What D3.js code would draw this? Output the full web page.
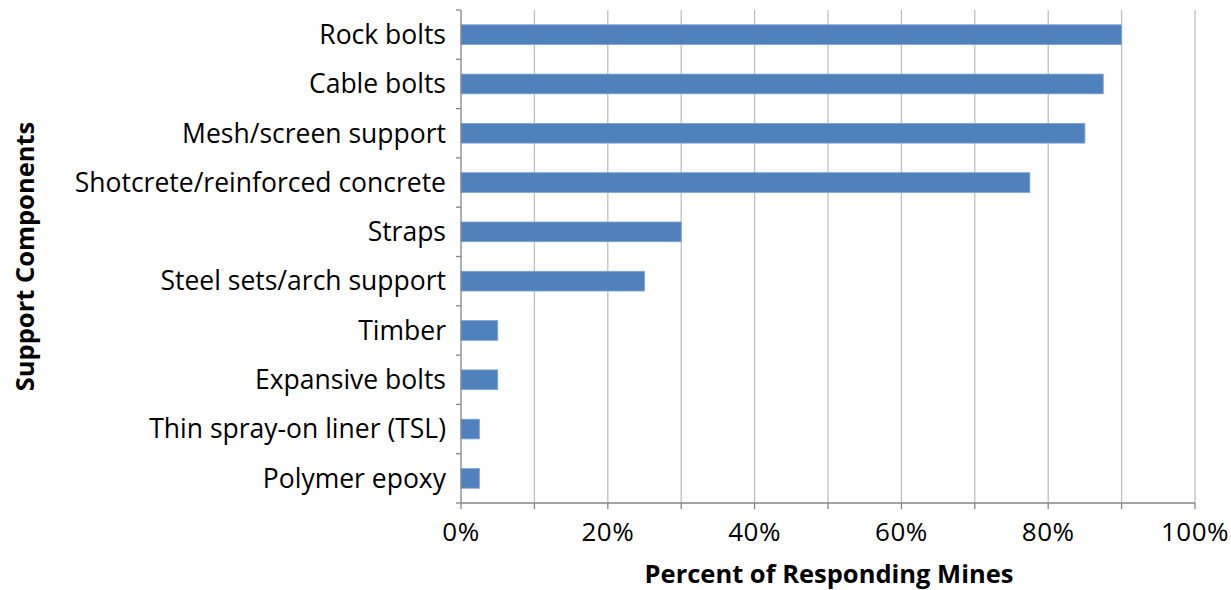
<!DOCTYPE html>
<html>
<head>
<meta charset="utf-8">
<script src="https://cdn.jsdelivr.net/npm/d3@7"></script>
<style>
  body { margin: 0; background: #fff; }
  text { font-family: "Open Sans", "Liberation Sans", sans-serif; fill: #000; }
</style>
</head>
<body>
<div class="chart"></div>
<script>
const categories = ['Rock bolts', 'Cable bolts', 'Mesh/screen support', 'Shotcrete/reinforced concrete',
  'Straps', 'Steel sets/arch support', 'Timber', 'Expansive bolts', 'Thin spray-on liner (TSL)', 'Polymer epoxy']
const values = [0.90, 0.875, 0.85, 0.775, 0.30, 0.25, 0.05, 0.05, 0.025, 0.025]
const tickLabels = [0, 0.2, 0.4, 0.6, 0.8, 1.0]
const gridValues = d3.range(0, 1.01, 0.1)

const width = 1231, height = 590
const margin = { top: 10, right: 36, bottom: 87, left: 461 }

const svg = d3.select('.chart').append('svg')
  .attr('width', width)
  .attr('height', height)

const x = d3.scaleLinear()
  .domain([0, 1])
  .range([margin.left, width - margin.right])

const y = d3.scaleBand()
  .domain(categories)
  .range([margin.top, height - margin.bottom])
  .paddingInner(0.6)
  .paddingOuter(0.3)

const yTicks = d3.scaleLinear().domain([0, categories.length]).range([margin.top, height - margin.bottom])

// gridlines
svg.append('g')
  .selectAll('line')
  .data(gridValues.slice(1))
  .enter()
  .append('line')
  .attr('x1', d => x(d)).attr('x2', d => x(d))
  .attr('y1', margin.top).attr('y2', height - margin.bottom)
  .attr('stroke', '#c0c0c0')
  .attr('stroke-width', 1.3)

// bars
svg.append('g')
  .selectAll('rect')
  .data(categories)
  .enter()
  .append('rect')
  .attr('x', x(0))
  .attr('y', d => y(d))
  .attr('width', (d, i) => x(values[i]) - x(0))
  .attr('height', y.bandwidth())
  .attr('fill', '#4f81bd')
  .attr('stroke', '#7fa3d1')
  .attr('stroke-width', 0.8)

// x axis
const xAxis = svg.append('g')
  .attr('transform', `translate(0,${height - margin.bottom})`)

xAxis.append('line')
  .attr('x1', x(0)).attr('x2', x(1))
  .attr('stroke', '#868686').attr('stroke-width', 1.3)

xAxis.selectAll('.tick')
  .data(gridValues)
  .enter()
  .append('line')
  .attr('x1', d => x(d)).attr('x2', d => x(d))
  .attr('y1', 0).attr('y2', 6)
  .attr('stroke', '#868686').attr('stroke-width', 1.3)

xAxis.selectAll('.label')
  .data(tickLabels)
  .enter()
  .append('text')
  .attr('x', d => x(d))
  .attr('y', 38)
  .attr('text-anchor', 'middle')
  .style('font-size', '26px')
  .style('letter-spacing', '0.5px')
  .text(d => d3.format('.0%')(d))

// y axis
const yAxis = svg.append('g')

yAxis.append('line')
  .attr('x1', x(0)).attr('x2', x(0))
  .attr('y1', margin.top).attr('y2', height - margin.bottom)
  .attr('stroke', '#868686').attr('stroke-width', 1.3)

yAxis.selectAll('.tick')
  .data(d3.range(categories.length + 1))
  .enter()
  .append('line')
  .attr('x1', x(0) - 5).attr('x2', x(0))
  .attr('y1', d => yTicks(d)).attr('y2', d => yTicks(d))
  .attr('stroke', '#868686').attr('stroke-width', 1.3)

yAxis.selectAll('.label')
  .data(categories)
  .enter()
  .append('text')
  .attr('x', x(0) - 15)
  .attr('y', d => y(d) + y.bandwidth() / 2)
  .attr('dy', '0.35em')
  .attr('text-anchor', 'end')
  .style('font-size', '26.5px')
  .text(d => d)

// axis titles
svg.append('text')
  .attr('x', 829)
  .attr('y', 583)
  .attr('text-anchor', 'middle')
  .style('font-size', '25.5px')
  .style('font-weight', 'bold')
  .text('Percent of Responding Mines')

svg.append('text')
  .attr('transform', `translate(34,${(margin.top + height - margin.bottom) / 2}) rotate(-90)`)
  .attr('text-anchor', 'middle')
  .style('font-size', '25.5px')
  .style('font-weight', 'bold')
  .text('Support Components')
</script>
</body>
</html>
